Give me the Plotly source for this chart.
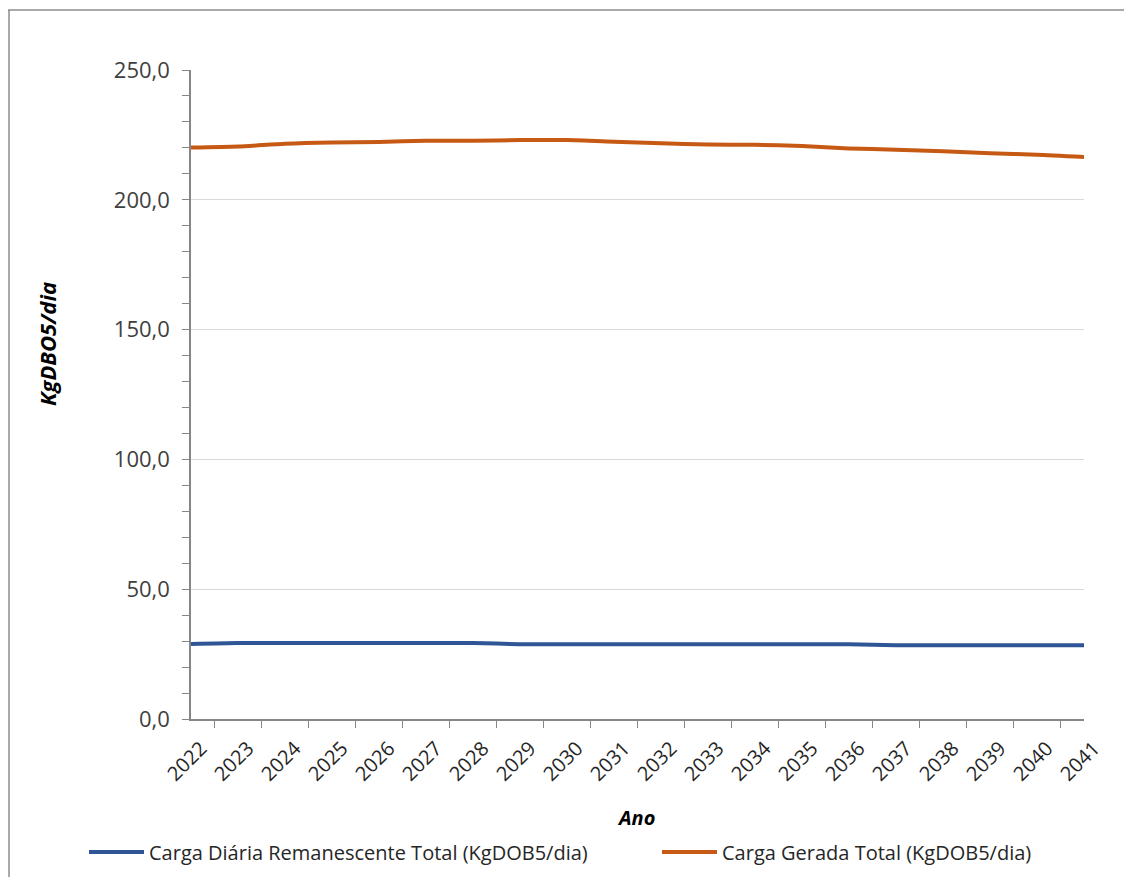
import plotly.graph_objects as go

years = [str(y) for y in range(2022, 2042)]
carga_remanescente = [28.9, 29.3, 29.3, 29.3, 29.3, 29.3, 29.3, 28.8, 28.8, 28.8,
                      28.8, 28.8, 28.8, 28.8, 28.8, 28.4, 28.4, 28.4, 28.4, 28.4]
carga_gerada = [220.1, 220.5, 221.6, 222.1, 222.3, 222.7, 222.7, 223.0, 223.0, 222.4,
                221.8, 221.3, 221.2, 220.7, 219.8, 219.3, 218.7, 217.9, 217.4, 216.5]
name_rem = "Carga Diária Remanescente Total (KgDOB5/dia)"
name_ger = "Carga Gerada Total (KgDOB5/dia)"

FONT = "Open Sans"
# page offset of the figure (body margin) is 8px
OFF = 8
W, H = 1132 - 2 * OFF, 885 - 2 * OFF
L, T = 191 - OFF, 70 - OFF
R = W - (1084 - OFF)
B = H - (719 - OFF)
PW, PH = W - L - R, H - T - B


def px_x(x):
    return (x - OFF - L) / PW


def px_y(y):
    return (H - B - (y - OFF)) / PH


def cx(x):
    return (x - OFF) / W


def cy(y):
    return 1 - (y - OFF) / H


fig = go.Figure()
fig.add_trace(go.Scatter(x=years, y=carga_remanescente, name=name_rem, mode="lines",
                         legend="legend",
                         line=dict(color="#2F5597", width=4, shape="spline", smoothing=0.6)))
fig.add_trace(go.Scatter(x=years, y=carga_gerada, name=name_ger, mode="lines",
                         legend="legend2",
                         line=dict(color="#C65A14", width=4, shape="spline", smoothing=0.6)))

legend_common = dict(orientation="h", xref="container", yref="container",
                     xanchor="left", y=cy(852), yanchor="middle",
                     font=dict(family=FONT, size=20, color="#262626"), itemwidth=55,
                     bgcolor="rgba(0,0,0,0)")

fig.update_layout(
    width=W, height=H,
    margin=dict(l=L, r=R, t=T, b=B, autoexpand=False),
    paper_bgcolor="white", plot_bgcolor="white",
    separators=",.",
    font=dict(family=FONT, color="#404040", size=18),
    showlegend=True,
    legend=dict(x=cx(84), **legend_common),
    legend2=dict(x=cx(657), **legend_common),
    xaxis=dict(type="category", showgrid=False, showline=True, linecolor="#868686", linewidth=1.5,
               ticks="outside", tickson="boundaries", ticklen=7, tickcolor="#868686",
               tickangle=-45, tickfont=dict(family=FONT, size=20, color="#262626"),
               ticklabelshift=10, ticklabelstandoff=8,
               zeroline=False, fixedrange=True, automargin=False),
    yaxis=dict(range=[0, 250], dtick=50, tickformat=".1f", showgrid=True, gridcolor="#D9D9D9",
               gridwidth=1.2, showline=True, linecolor="#868686", linewidth=1.5,
               ticks="outside", ticklen=7, tickcolor="#868686",
               tickfont=dict(family=FONT, size=22, color="#404040"),
               ticklabelstandoff=8,
               minor=dict(dtick=10, ticks="outside", ticklen=7, tickcolor="#868686", showgrid=False),
               zeroline=False, fixedrange=True, automargin=False),
    annotations=[
        dict(text="<b><i>Ano</i></b>", x=px_x(636), y=px_y(817), xref="paper", yref="paper",
             showarrow=False, font=dict(family=FONT, size=20, color="#000000"), yanchor="middle"),
        dict(text="<b><i>KgDBO5/dia</i></b>", x=px_x(47), y=px_y(344),
             xref="paper", yref="paper", showarrow=False, textangle=-90,
             font=dict(family=FONT, size=22, color="#000000"), xanchor="center", yanchor="middle"),
    ],
    shapes=[
        dict(type="line", xref="paper", yref="paper", x0=px_x(8), x1=px_x(1140),
             y0=px_y(10), y1=px_y(10), line=dict(color="#8C8C8C", width=1.5)),
        dict(type="line", xref="paper", yref="paper", x0=px_x(9), x1=px_x(9),
             y0=px_y(10), y1=px_y(890), line=dict(color="#8C8C8C", width=1.5)),
    ],
)

fig.write_html("out.html")
